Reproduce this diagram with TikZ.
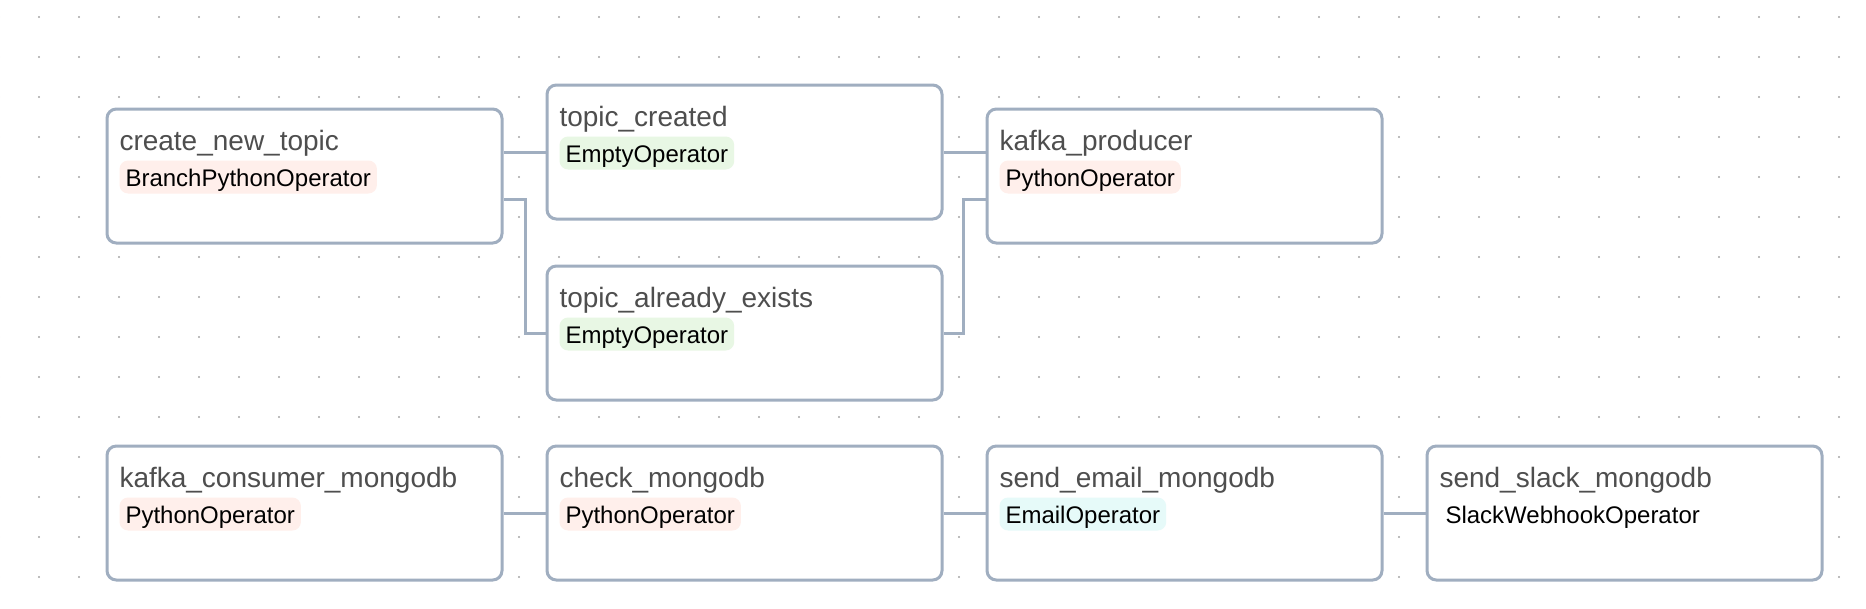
\documentclass[tikz,border=0pt]{standalone}
\usepackage{fontspec}
\setmainfont{Liberation Sans}

\definecolor{edgegray}{RGB}{160,174,192}
\definecolor{namegray}{RGB}{78,78,78}
\definecolor{dotgray}{RGB}{165,165,165}
\definecolor{pillpy}{RGB}{255,239,235}
\definecolor{pillempty}{RGB}{232,247,228}
\definecolor{pillemail}{RGB}{230,250,249}

\tikzset{every picture/.style={line width=0.75pt}}
\tikzset{
  taskbox/.style={draw=edgegray, fill=white, line width=2.25pt, rounded corners=7pt,
    minimum width=296.25pt, minimum height=100.5pt, inner sep=0pt, anchor=north west},
  taskname/.style={anchor=base west, inner sep=0pt, text=namegray,
    font=\fontsize{21pt}{25pt}\selectfont},
  opbox/.style={anchor=north west, rounded corners=6.5pt, inner xsep=4.5pt, inner ysep=0pt,
    text height=19.5pt, text depth=5.25pt, text=black, font=\fontsize{18pt}{22pt}\selectfont},
  pyop/.style={opbox, fill=pillpy},
  emptyop/.style={opbox, fill=pillempty},
  emailop/.style={opbox, fill=pillemail},
  slackop/.style={opbox, fill=white},
  edge/.style={draw=edgegray, line width=2.25pt}
}

\begin{document}
\begin{tikzpicture}[x=0.75pt,y=0.75pt,yscale=-1,xscale=1]
\useasboundingbox (0,0) rectangle (1866,608);

%Dot grid
\foreach \i in {0,...,46}
  \foreach \j in {0,...,14}
    \fill [dotgray] (-1+40*\i,17+40*\j) circle (1.1);

%Rounded Rect [create_new_topic]
\node [taskbox] (newtopic) at (105.5,107.5) {};
%Rounded Rect [topic_created]
\node [taskbox] (created) at (545.5,83.5) {};
%Rounded Rect [kafka_producer]
\node [taskbox] (producer) at (985.5,107.5) {};
%Rounded Rect [topic_already_exists]
\node [taskbox] (exists) at (545.5,264.5) {};
%Rounded Rect [kafka_consumer_mongodb]
\node [taskbox] (consumer) at (105.5,444.5) {};
%Rounded Rect [check_mongodb]
\node [taskbox] (checkdb) at (545.5,444.5) {};
%Rounded Rect [send_email_mongodb]
\node [taskbox] (email) at (985.5,444.5) {};
%Rounded Rect [send_slack_mongodb]
\node [taskbox] (slack) at (1425.5,444.5) {};

%Connectors
\draw [edge] (newtopic.east |- created.west) -- (created.west);
\draw [edge] (newtopic.east) ++(0,23.2) -- ++(22.2,0) |- (exists.west);
\draw [edge] (created.east) -- (created.east -| producer.west);
\draw [edge] (producer.west) ++(0,23.2) -- ++(-22.5,0) |- (exists.east);
\draw [edge] (consumer.east) -- (checkdb.west);
\draw [edge] (checkdb.east) -- (email.west);
\draw [edge] (email.east) -- (slack.west);

% Text Node
\draw (119,150) node [taskname] (newtopic-name) {create\_new\_topic};
% Text Node
\draw (119,160) node [pyop] (newtopic-op) {BranchPythonOperator};
% Text Node
\draw (559,126) node [taskname] (created-name) {topic\_created};
% Text Node
\draw (559,136) node [emptyop] (created-op) {EmptyOperator};
% Text Node
\draw (999,150) node [taskname] (producer-name) {kafka\_producer};
% Text Node
\draw (999,160) node [pyop] (producer-op) {PythonOperator};
% Text Node
\draw (559,307) node [taskname] (exists-name) {topic\_already\_exists};
% Text Node
\draw (559,317) node [emptyop] (exists-op) {EmptyOperator};
% Text Node
\draw (119,487) node [taskname] (consumer-name) {kafka\_consumer\_mongodb};
% Text Node
\draw (119,497) node [pyop] (consumer-op) {PythonOperator};
% Text Node
\draw (559,487) node [taskname] (checkdb-name) {check\_mongodb};
% Text Node
\draw (559,497) node [pyop] (checkdb-op) {PythonOperator};
% Text Node
\draw (999,487) node [taskname] (email-name) {send\_email\_mongodb};
% Text Node
\draw (999,497) node [emailop] (email-op) {EmailOperator};
% Text Node
\draw (1439,487) node [taskname] (slack-name) {send\_slack\_mongodb};
% Text Node
\draw (1439,497) node [slackop] (slack-op) {SlackWebhookOperator};

\end{tikzpicture}
\end{document}
